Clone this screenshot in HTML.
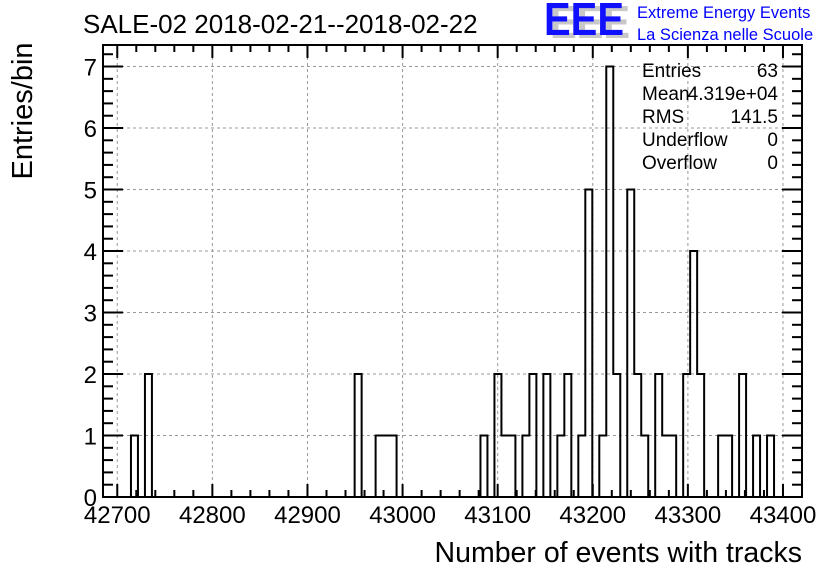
<!DOCTYPE html>
<html><head><meta charset="utf-8"><style>
body{margin:0;background:#fff;}
svg{display:block;font-family:"Liberation Sans",Arial,sans-serif;}
</style></head><body>
<svg id="c" width="836" height="572">
<text x="83" y="33" font-size="26">SALE-02 2018-02-21--2018-02-22</text>
<g>
<text x="550" y="38" font-size="46" font-weight="bold" fill="#c8c8c8" textLength="80" lengthAdjust="spacingAndGlyphs">EEE</text>
<text x="544" y="35" font-size="46" font-weight="bold" fill="#1010ff" textLength="80" lengthAdjust="spacingAndGlyphs">EEE</text>
</g>
<text x="637" y="18" font-size="16.5" fill="#0000ff">Extreme Energy Events</text>
<text x="637" y="40" font-size="16.5" fill="#0000ff">La Scienza nelle Scuole</text>
<text transform="translate(32,111) rotate(-90)" text-anchor="middle" font-size="29">Entries/bin</text>
<text x="802" y="562" text-anchor="end" font-size="28.5">Number of events with tracks</text>
<g id="grid"></g><g id="axes"></g><path id="hist" fill="none" stroke="#000" stroke-width="2"/>
<g font-size="19">
<text x="642" y="77">Entries</text><text x="778" y="77" text-anchor="end">63</text>
<text x="642" y="100">Mean</text><text x="778" y="100" text-anchor="end">4.319e+04</text>
<text x="642" y="123">RMS</text><text x="778" y="123" text-anchor="end">141.5</text>
<text x="642" y="146">Underflow</text><text x="778" y="146" text-anchor="end">0</text>
<text x="642" y="169">Overflow</text><text x="778" y="169" text-anchor="end">0</text>
</g>
</svg>
<script>
const xMin = 42685, xMax = 43420, nBins = 100;
const filledBins = [4,6,36,39,40,41,54,56,57,58,60,61,63,65,66,68,69,71,72,73,75,76,77,79,80,81,83,84,85,88,89,91,93,95];
const binCounts  = [1,2,2,1,1,1,1,2,1,1,1,2,2,1,2,1,5,1,7,2,5,2,1,2,1,1,2,4,2,1,1,2,1,1];
const xTicks = [42700,42800,42900,43000,43100,43200,43300,43400];
const yTicks = [0,1,2,3,4,5,6,7];
const yMax = 7.35;
const L=103,R=802,T=45,B=497;
const sx=v=>L+(v-xMin)/(xMax-xMin)*(R-L);
const sy=v=>B-v/yMax*(B-T);
const NS="http://www.w3.org/2000/svg";
function mk(tag,attrs,parent){const e=document.createElementNS(NS,tag);for(const k in attrs)e.setAttribute(k,attrs[k]);parent.appendChild(e);return e;}
const grid=document.getElementById('grid'),axes=document.getElementById('axes');
xTicks.forEach(v=>{const l=mk('line',{x1:sx(v),x2:sx(v),y1:T,y2:B,stroke:'#999','stroke-dasharray':'3,3'},grid);

});
yTicks.forEach(v=>{if(v===0)return;const l=mk('line',{x1:L,x2:R,y1:sy(v),y2:sy(v),stroke:'#999','stroke-dasharray':'3,3'},grid);

});
const fr=mk('rect',{x:L,y:T,width:R-L,height:B-T,fill:'none',stroke:'#000','stroke-width':2},axes);


for(let v=42700;v<=43420;v+=20){const maj=(v%100===0);const len=maj?13:7;
mk('line',{x1:sx(v),x2:sx(v),y1:B,y2:B-len,stroke:'#000','stroke-width':2},axes);
mk('line',{x1:sx(v),x2:sx(v),y1:T,y2:T+len,stroke:'#000','stroke-width':2},axes);}
for(let v=0;v<=yMax+1e-6;v+=0.2){const maj=Math.abs(v-Math.round(v))<1e-6;const len=maj?20:10;
mk('line',{x1:L,x2:L+len,y1:sy(v),y2:sy(v),stroke:'#000','stroke-width':2},axes);
mk('line',{x1:R,x2:R-len,y1:sy(v),y2:sy(v),stroke:'#000','stroke-width':2},axes);}
xTicks.forEach(v=>{const t=mk('text',{x:sx(v),y:523,'text-anchor':'middle','font-size':24},axes);t.textContent=v;

});
yTicks.forEach(v=>{const t=mk('text',{x:L-6,y:sy(v)+9,'text-anchor':'end','font-size':24},axes);t.textContent=v;

});
const counts=new Array(nBins).fill(0);filledBins.forEach((b,i)=>counts[b]=binCounts[i]);
const bw=(xMax-xMin)/nBins;let d='M'+sx(xMin)+','+sy(0);
for(let i=0;i<nBins;i++){const x0=sx(xMin+i*bw),x1=sx(xMin+(i+1)*bw),y=sy(counts[i]);d+=' L'+x0+','+y+' L'+x1+','+y;}
d+=' L'+sx(xMax)+','+sy(0);
document.getElementById('hist').setAttribute('d',d);
</script>
</body></html>
